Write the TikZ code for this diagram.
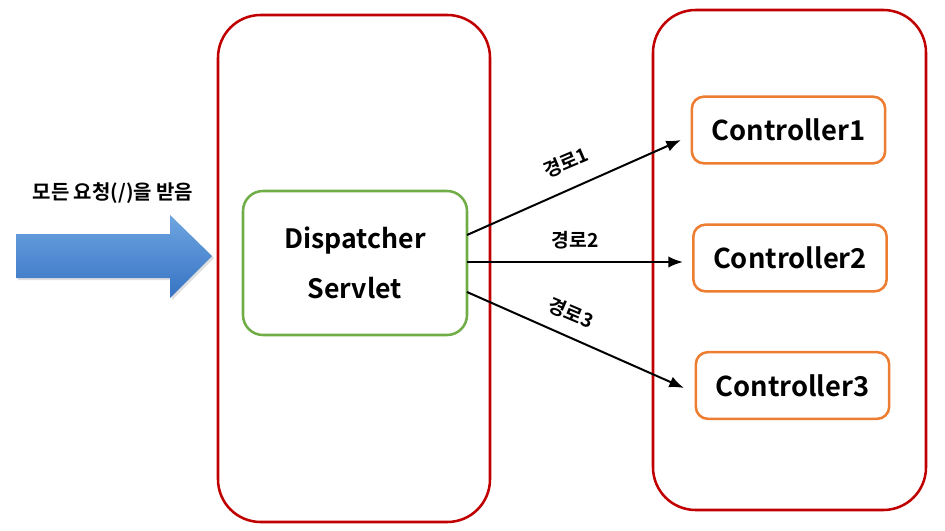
\documentclass[tikz,border=0pt]{standalone}
\usepackage{fontspec}
\setmainfont{Noto Sans CJK KR}[BoldFont={Noto Sans CJK KR Bold}]
\usetikzlibrary{arrows.meta,shadows}
\definecolor{cred}{RGB}{192,0,0}
\definecolor{cgreen}{RGB}{112,173,71}
\definecolor{corange}{RGB}{237,125,49}
\definecolor{ctop}{RGB}{110,165,225}
\definecolor{cbot}{RGB}{55,115,195}
\tikzset{
  container/.style={draw=cred, line width=1.9pt, rounded corners=32pt},
  dispbox/.style={draw=cgreen, line width=1.9pt, rounded corners=15pt, minimum width=168pt, minimum height=108pt, align=center, font=\bfseries\fontsize{20}{37}\selectfont},
  ctrlbox/.style={draw=corange, line width=1.9pt, rounded corners=9pt, minimum width=145pt, minimum height=50pt, font=\bfseries\fontsize{20.5}{22}\selectfont},
  route/.style={line width=1.5pt, -{Latex[length=11pt,width=8.5pt]}},
  rlabel/.style={font=\bfseries\fontsize{14.5}{16}\selectfont, inner sep=0pt},
}
\begin{document}
\begin{tikzpicture}[x=0.75pt,y=-0.75pt]
\useasboundingbox (0,0) rectangle (945,531);
% containers
\draw[container] (218,15) rectangle (490,522);
\draw[container] (653,10) rectangle (926,510);
% blue arrow
\shade[top color=ctop, bottom color=cbot, drop shadow={shadow xshift=1.5pt, shadow yshift=-1.5pt, opacity=0.25}]
  (16,234) -- (170,234) -- (170,215) -- (212,256) -- (170,298) -- (170,278) -- (16,278) -- cycle;
\node[font=\bfseries\fontsize{15}{17}\selectfont] (req) at (113,193) {모든 요청(/)을 받음};
% dispatcher
\node[dispbox] (ds) at (355,263) {Dispatcher\\Servlet};
% controllers
\node[ctrlbox] (c1) at (788.5,130) {Controller1};
\node[ctrlbox] (c2) at (790,258) {Controller2};
\node[ctrlbox] (c3) at (792.5,385.5) {Controller3};
% routes
\coordinate (s1) at (467,235);
\coordinate (s2) at (467,262);
\coordinate (s3) at (467,292);
\coordinate (e1) at (681,140);
\coordinate (e2) at (683,262);
\coordinate (e3) at (684,388);
\draw[route] (s1) -- (e1);
\draw[route] (s2) -- (e2);
\draw[route] (s3) -- (e3);
\node[rlabel, rotate=23] (l1) at (566,163) {경로1};
\node[rlabel] (l2) at (575,240) {경로2};
\node[rlabel, rotate=-23] (l3) at (571,313) {경로3};
\end{tikzpicture}
\end{document}
